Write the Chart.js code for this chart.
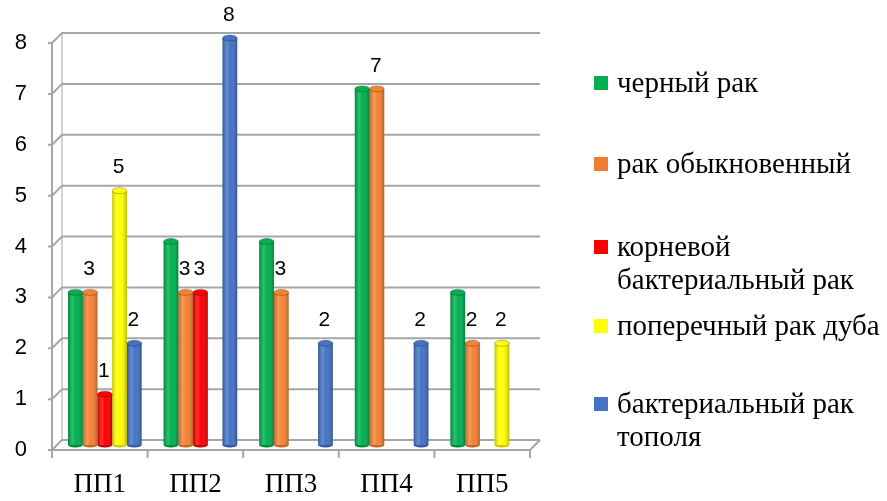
<!DOCTYPE html>
<html>
<head>
<meta charset="utf-8">
<script src="https://cdn.jsdelivr.net/npm/chart.js@4.4.0/dist/chart.umd.min.js"></script>
<style>
  html, body { margin: 0; padding: 0; background: #fff; }
  #wrap { position: relative; width: 887px; height: 501px; }
  #legend { font-family: "Liberation Serif", "Times New Roman", serif; font-size: 29px; line-height: 33px; color: #000; }
  .item { position: absolute; left: 594px; white-space: pre; }
  .box { position: absolute; left: 0; top: 10px; width: 14px; height: 14px; }
  .txt { position: absolute; left: 23px; top: 0; }
</style>
</head>
<body>
<div id="wrap">
  <canvas id="chart" width="887" height="501"></canvas>
  <div id="legend"></div>
</div>
<script>
const categories = ['ПП1', 'ПП2', 'ПП3', 'ПП4', 'ПП5'];
const seriesNames = ['черный рак', 'рак обыкновенный', 'корневой\nбактериальный рак', 'поперечный рак дуба', 'бактериальный рак\nтополя'];
const blackCanker = [3, 4, 4, 7, 3];
const commonCanker = [3, 3, 3, 7, 2];
const rootCanker = [1, 3, 0, 0, 0];
const oakCanker = [5, 0, 0, 0, 2];
const poplarCanker = [2, 8, 2, 2, 0];
const yTicks = [0, 1, 2, 3, 4, 5, 6, 7, 8];

const seriesData = [blackCanker, commonCanker, rootCanker, oakCanker, poplarCanker];
const colors = ['#00b050', '#f58233', '#ff0000', '#ffff00', '#4472c4'];
const legendColors = ['#00b050', '#ed7d31', '#ff0000', '#ffff00', '#4472c4'];
const legendTops = [66, 147, 230, 309, 387];
const DEPTH = 5; // half of the 3d wall offset

// grey 3d frame: back wall grid, left wall diagonals, floor
const frame3d = {
  id: 'frame3d',
  beforeDatasetsDraw(chart) {
    const { ctx, chartArea: a, scales: { x, y } } = chart;
    const y0 = y.getPixelForValue(0);
    const yTop = y.getPixelForValue(8);
    ctx.save();
    ctx.strokeStyle = '#a6a6a6';
    ctx.lineWidth = 2;
    yTicks.forEach(v => {
      const py = y.getPixelForValue(v);
      ctx.beginPath();
      ctx.moveTo(a.left - DEPTH - 4, py + DEPTH);
      ctx.lineTo(a.left - DEPTH, py + DEPTH);
      ctx.lineTo(a.left + DEPTH, py - DEPTH);
      ctx.lineTo(a.right + DEPTH, py - DEPTH);
      ctx.stroke();
    });
    ctx.beginPath();
    ctx.moveTo(a.left - DEPTH, yTop + DEPTH);
    ctx.lineTo(a.left - DEPTH, y0 + DEPTH);
    ctx.lineTo(a.right - DEPTH, y0 + DEPTH);
    ctx.lineTo(a.right + DEPTH, y0 - DEPTH);
    ctx.stroke();
    ctx.lineWidth = 1;
    ctx.beginPath();
    ctx.moveTo(a.left + DEPTH, yTop - DEPTH);
    ctx.lineTo(a.left + DEPTH, y0 - DEPTH);
    ctx.stroke();
    // category separators on the floor
    ctx.lineWidth = 2;
    const step = (a.right - a.left) / categories.length;
    for (let i = 0; i <= categories.length; i++) {
      const px = a.left + i * step - DEPTH;
      ctx.beginPath();
      ctx.moveTo(px, y0 + DEPTH);
      ctx.lineTo(px, y0 + DEPTH + 8);
      ctx.stroke();
    }
    ctx.restore();
  }
};

// cylinder shading + value labels
const cylinders = {
  id: 'cylinders',
  afterDatasetsDraw(chart) {
    const { ctx } = chart;
    ctx.save();
    chart.data.datasets.forEach((ds, di) => {
      chart.getDatasetMeta(di).data.forEach((el, i) => {
        const val = ds.data[i];
        if (!val) return;
        const { x, y, base, width } = el.getProps(['x', 'y', 'base', 'width'], true);
        const left = x - width / 2;
        const g = ctx.createLinearGradient(left, 0, left + width, 0);
        g.addColorStop(0, 'rgba(0,0,0,0.22)');
        g.addColorStop(0.3, 'rgba(255,255,255,0.18)');
        g.addColorStop(0.55, 'rgba(255,255,255,0)');
        g.addColorStop(1, 'rgba(0,0,0,0.28)');
        ctx.fillStyle = g;
        ctx.fillRect(left, y, width, base - y);
        // bottom rounding
        ctx.beginPath();
        ctx.ellipse(x, base, width / 2, 2.5, 0, 0, Math.PI);
        ctx.fillStyle = ds.backgroundColor;
        ctx.fill();
        ctx.fillStyle = 'rgba(0,0,0,0.2)';
        ctx.fill();
        // top cap
        ctx.beginPath();
        ctx.ellipse(x, y, width / 2, 3, 0, 0, Math.PI * 2);
        ctx.fillStyle = ds.backgroundColor;
        ctx.fill();
        ctx.strokeStyle = 'rgba(0,0,0,0.25)';
        ctx.lineWidth = 1;
        ctx.stroke();
        if (di > 0) {
          ctx.fillStyle = '#000';
          ctx.font = '21px "Liberation Sans", Arial, sans-serif';
          ctx.textAlign = 'center';
          ctx.textBaseline = 'middle';
          ctx.fillText(String(val), x - 1, y - 23);
        }
      });
    });
    ctx.restore();
  }
};

const noScalePadding = s => {
  s.paddingTop = 0;
  s.paddingBottom = 0;
  s.paddingLeft = 0;
  s.paddingRight = 0;
};

const chart = new Chart(document.getElementById('chart'), {
  type: 'bar',
  data: {
    labels: categories,
    datasets: seriesNames.map((name, i) => ({
      label: name,
      data: seriesData[i],
      backgroundColor: colors[i],
      borderWidth: 0,
      categoryPercentage: 0.77,
      barPercentage: 1
    }))
  },
  options: {
    responsive: false,
    animation: false,
    layout: { padding: { top: 38, right: 352, left: 0, bottom: 0 } },
    plugins: { legend: { display: false }, tooltip: { enabled: false } },
    scales: {
      x: {
        grid: { display: false, drawTicks: false },
        border: { display: false },
        ticks: {
          color: '#000',
          font: { family: '"Liberation Serif", "Times New Roman", serif', size: 27 },
          padding: 24,
          labelOffset: -5
        },
        afterFit: s => { s.height = 56; noScalePadding(s); }
      },
      y: {
        min: 0,
        max: 8,
        afterBuildTicks: s => { s.ticks = yTicks.map(v => ({ value: v })); },
        grid: { display: false, drawTicks: false },
        border: { display: false },
        ticks: {
          color: '#000',
          font: { family: '"Liberation Sans", Arial, sans-serif', size: 22 },
          padding: 30,
          labelOffset: 5
        },
        afterFit: s => { s.width = 57; noScalePadding(s); }
      }
    }
  },
  plugins: [frame3d, cylinders]
});

// legend on the right
const legend = document.getElementById('legend');
seriesNames.forEach((name, i) => {
  const item = document.createElement('div');
  item.className = 'item';
  item.style.top = legendTops[i] + 'px';
  item.innerHTML = '<span class="box" style="background:' + legendColors[i] + '"></span><span class="txt"></span>';
  item.querySelector('.txt').textContent = name;
  legend.appendChild(item);
});
</script>
</body>
</html>
